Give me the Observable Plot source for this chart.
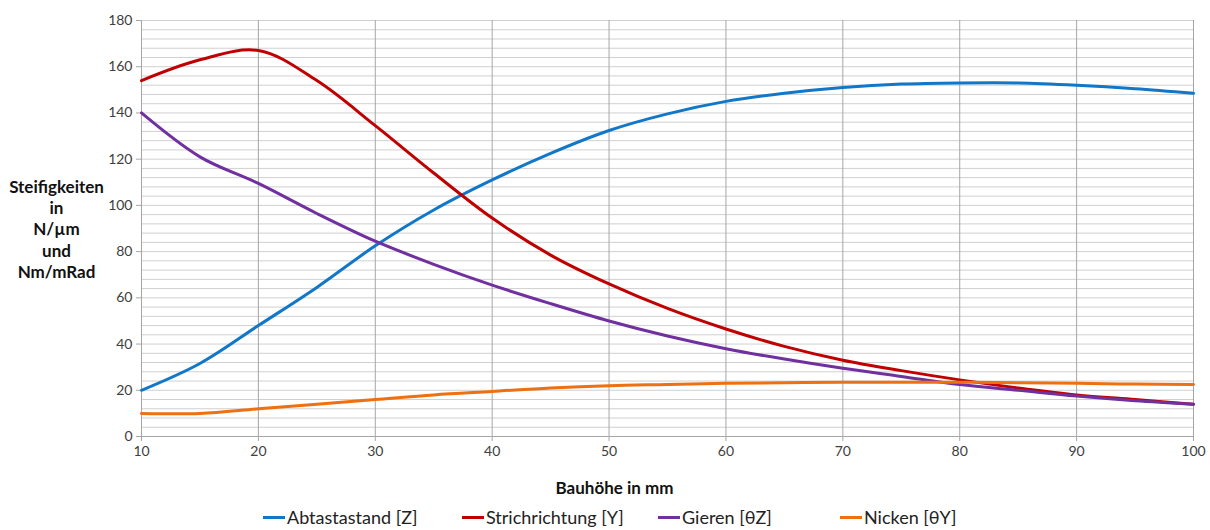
<!DOCTYPE html>
<html><head><meta charset="utf-8">
<script src="https://cdn.jsdelivr.net/npm/d3@7"></script>
<script src="https://cdn.jsdelivr.net/npm/@observablehq/plot@0.6"></script>
<style>
body{margin:0;background:#fff;font-family:Lato,sans-serif;}
#wrap{width:1210px;height:530px;position:relative;}
#legend{position:relative;height:25px;font-size:18px;color:#222}
.item{position:absolute;top:1px;display:flex;align-items:center;white-space:nowrap}
.sw{width:22px;height:3px;margin-right:2px}
</style></head><body><div id="wrap"></div>
<script>
const hoehe = [10,15,20,25,30,35,40,45,50,55,60,65,70,75,80,85,90,95,100];
const abtastastand = [20,31.6,48,64.5,82.5,98,111,122.5,132.4,139.6,145,148.5,151,152.5,153,153,152,150.5,148.5];
const strichrichtung = [154,163,167,154,134.5,114,94.5,78.5,66,55.4,46.5,39,33,28.5,24.5,21,18,16,14];
const gieren = [140,121,109.5,96.5,84.5,74.5,65.5,57.5,50,43.5,38,33.5,29.5,26,22.5,20,17.5,15.5,14];
const nicken = [10,10,12,14,16,18,19.5,21,22,22.5,23,23.3,23.5,23.5,23.5,23.3,23,22.7,22.5];
const seriesNames = ["Abtastastand [Z]","Strichrichtung [Y]","Gieren [θZ]","Nicken [θY]"];
const seriesColors = ["#1177c8","#c00000","#7030a0","#ee7010"];
const yTicks = [0,20,40,60,80,100,120,140,160,180];
const xTicks = [10,20,30,40,50,60,70,80,90,100];
const yMinor = d3.range(0,181,4);
const yTitle = "Steifigkeiten\nin\nN/µm\nund\nNm/mRad";
const xTitle = "Bauhöhe in mm";
const legendX = [263,462,658,840];

const allSeries = [abtastastand,strichrichtung,gieren,nicken];
const rows = [];
allSeries.forEach((vals,i)=>vals.forEach((v,j)=>rows.push({x:hoehe[j],y:v,s:seriesNames[i]})));

const chart = Plot.plot({
  width:1210, height:505,
  marginLeft:141, marginRight:17, marginTop:20, marginBottom:69,
  style:{fontFamily:"Lato, sans-serif", fontSize:"14px", color:"#404040"},
  x:{domain:[10,100]},
  y:{domain:[0,180]},
  color:{domain:seriesNames, range:seriesColors},
  marks:[
    Plot.ruleY(yMinor,{stroke:"#d0d0d0",strokeWidth:1}),
    Plot.ruleX(xTicks,{stroke:"#a6a6a6",strokeWidth:1}),
    Plot.ruleY([0],{stroke:"#a6a6a6"}),
    Plot.axisY({ticks:yTicks,tickSize:5,tickPadding:4,label:null,stroke:"#a6a6a6",fill:"#404040"}),
    Plot.axisX({ticks:xTicks,tickSize:5,tickPadding:5,label:null,stroke:"#a6a6a6",fill:"#404040"}),
    Plot.line(rows,{x:"x",y:"y",z:"s",stroke:"s",strokeWidth:3,curve:"catmull-rom"}),
    Plot.text([yTitle],{frameAnchor:"left",y:[90],dx:-85,text:d=>d,textAnchor:"middle",lineHeight:1.25,fontWeight:"bold",fontSize:17,fill:"#111"}),
    Plot.text([xTitle],{frameAnchor:"bottom",dx:-53,dy:57,text:d=>d,fontWeight:"bold",fontSize:17,fill:"#111"})
  ]
});
const wrap=document.getElementById("wrap");
wrap.appendChild(chart);
const leg=document.createElement("div");leg.id="legend";
seriesNames.forEach((n,i)=>{const it=document.createElement("div");it.className="item";it.style.left=legendX[i]+"px";
 const sw=document.createElement("span");sw.className="sw";sw.style.background=seriesColors[i];
 it.appendChild(sw);it.appendChild(document.createTextNode(n));leg.appendChild(it);});
wrap.appendChild(leg);
</script></body></html>
